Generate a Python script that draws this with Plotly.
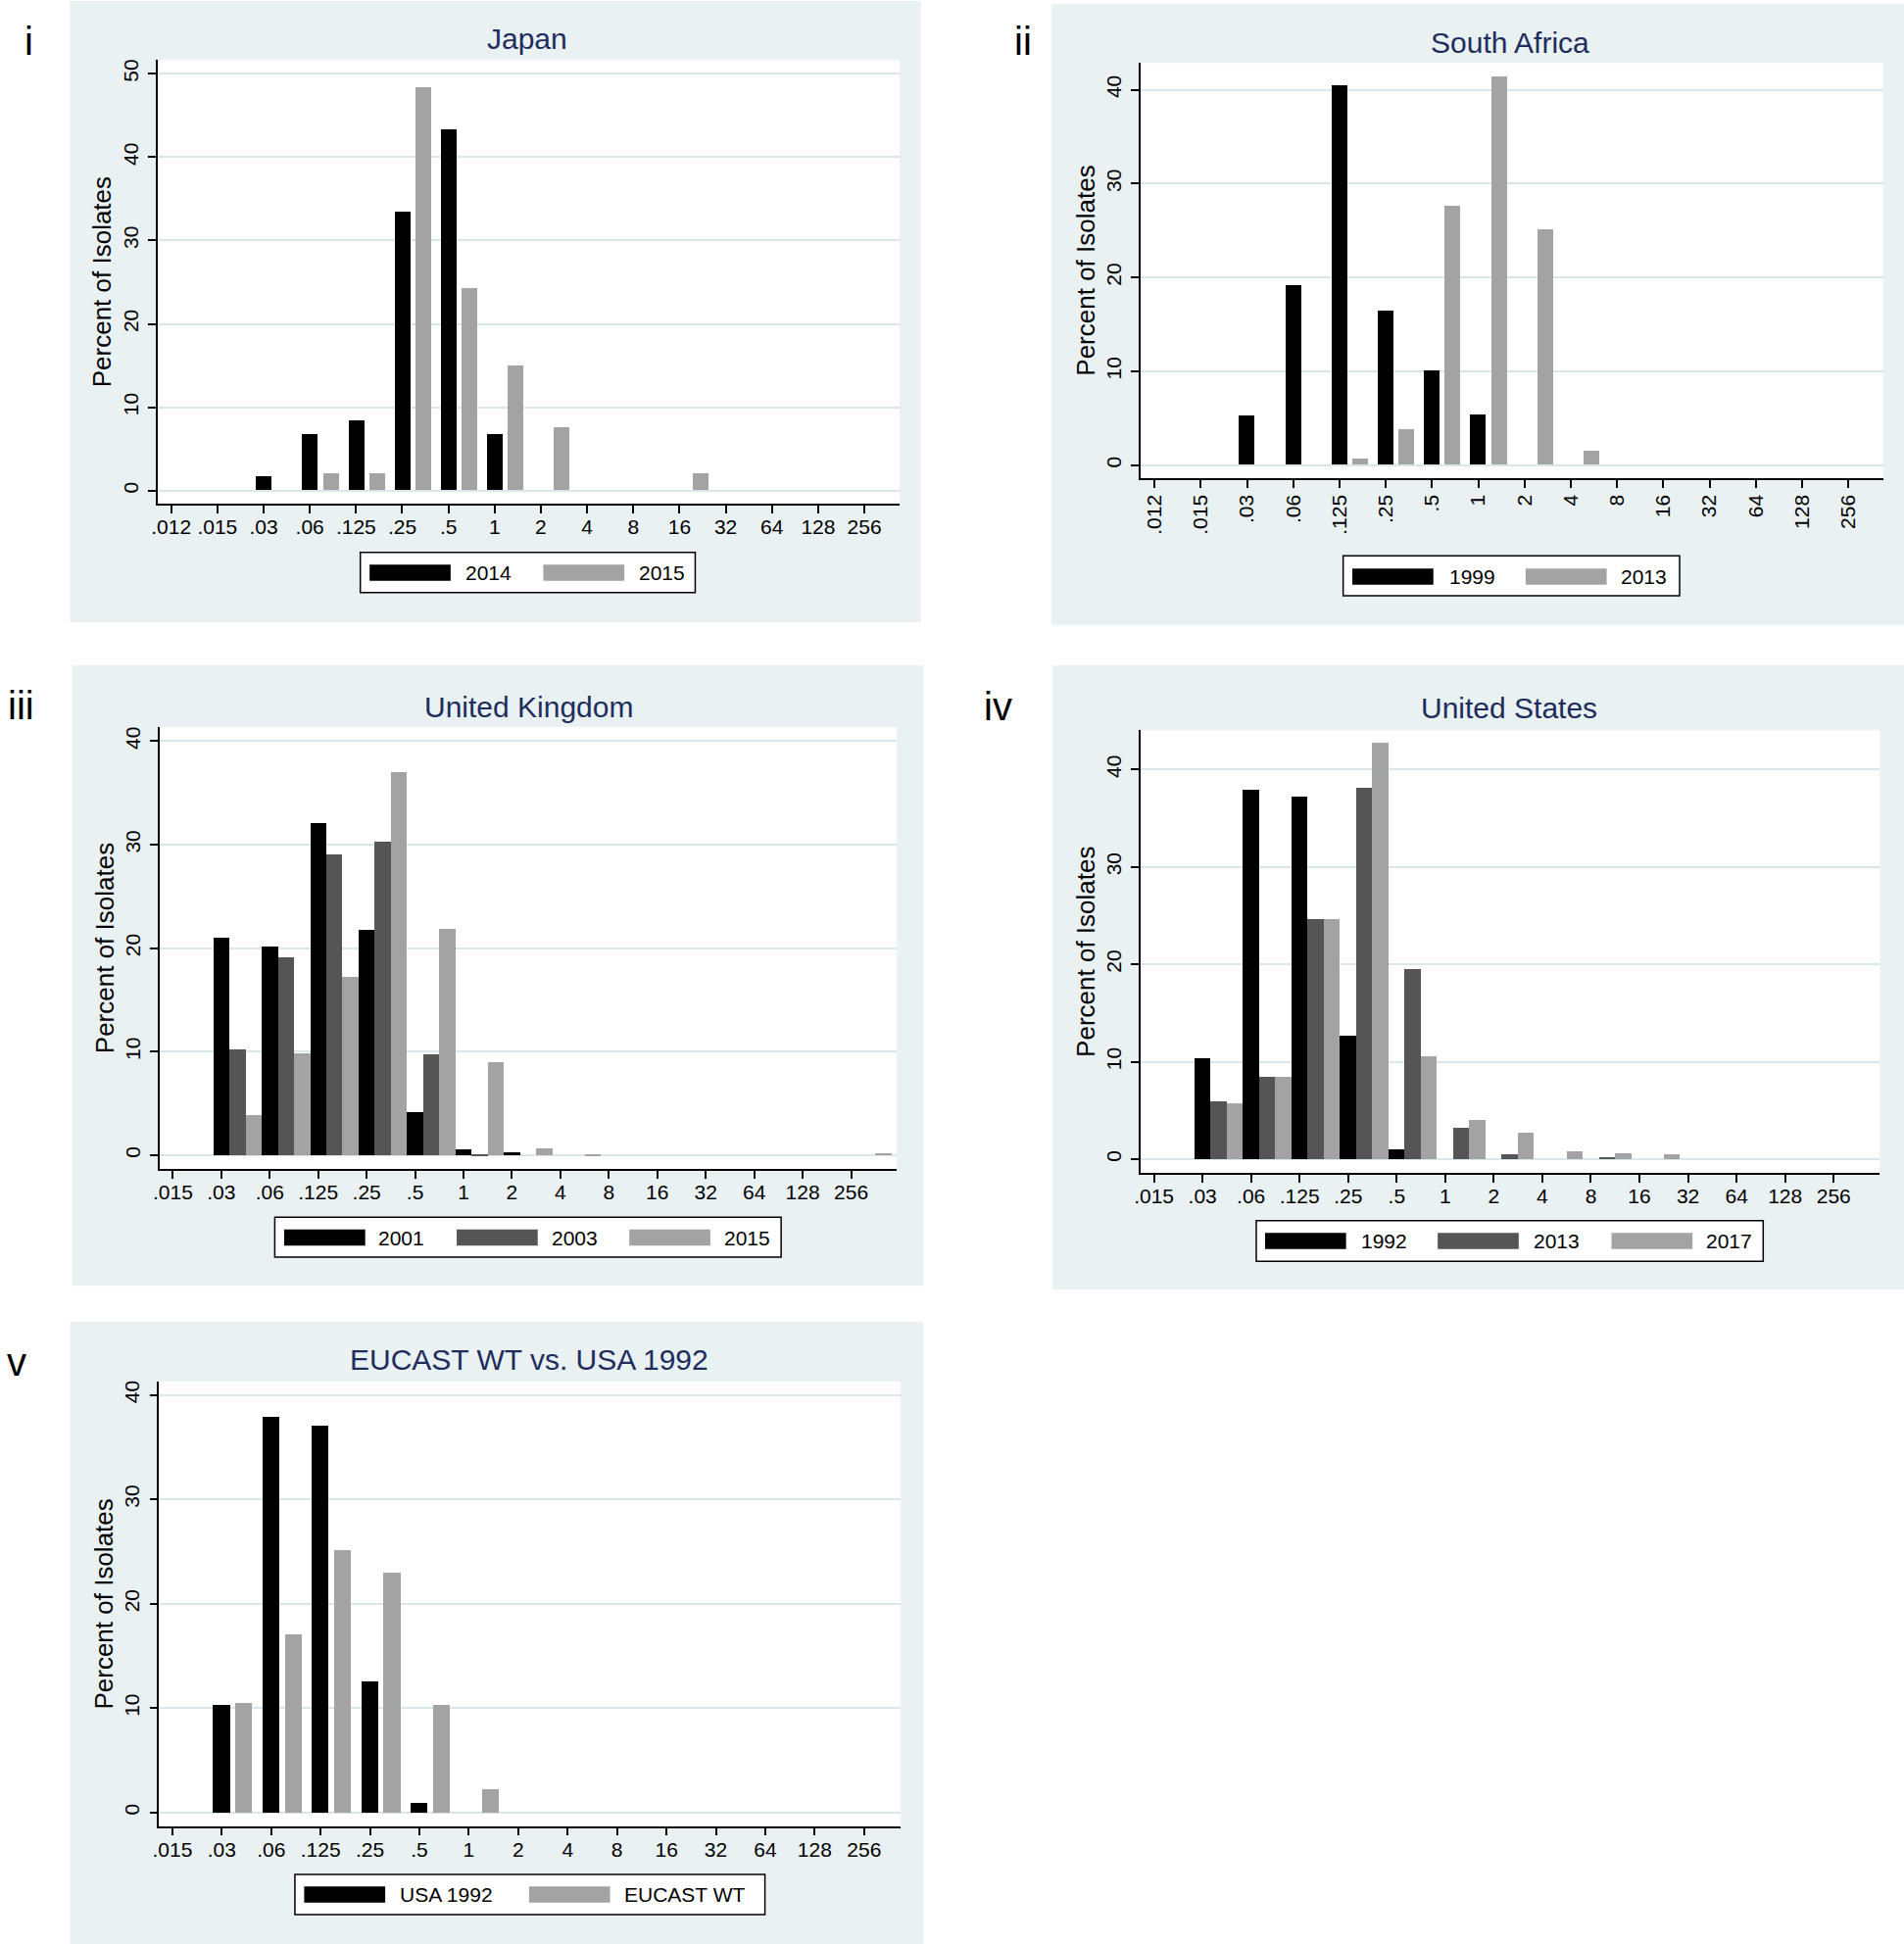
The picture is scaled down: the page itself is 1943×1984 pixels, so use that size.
import plotly.graph_objects as go

# MIC dilution categories (mg/L)
mic_16 = [".012", ".015", ".03", ".06", ".125", ".25", ".5", "1", "2", "4",
          "8", "16", "32", "64", "128", "256"]
mic_15 = [".015", ".03", ".06", ".125", ".25", ".5", "1", "2", "4",
          "8", "16", "32", "64", "128", "256"]

# percent of isolates per MIC
japan_2014 = [0, 0, 1.7, 6.8, 8.4, 33.4, 43.3, 6.8, 0, 0, 0, 0, 0, 0, 0, 0]
japan_2015 = [0, 0, 0, 2.0, 2.0, 48.3, 24.2, 15.0, 7.6, 0, 0, 2.0, 0, 0, 0, 0]

sa_1999 = [0, 0, 5.3, 19.2, 40.5, 16.4, 10.1, 5.4, 0, 0, 0, 0, 0, 0, 0, 0]
sa_2013 = [0, 0, 0, 0, 0.7, 3.8, 27.6, 41.4, 25.1, 1.5, 0, 0, 0, 0, 0, 0]

uk_2001 = [0, 21.0, 20.2, 32.1, 21.8, 4.2, 0.55, 0.27, 0, 0, 0, 0, 0, 0, 0]
uk_2003 = [0, 10.2, 19.1, 29.1, 30.3, 9.8, 0.15, 0, 0, 0, 0, 0, 0, 0, 0]
uk_2015 = [0, 3.9, 9.9, 17.2, 37.0, 21.9, 9.0, 0.63, 0.12, 0, 0, 0, 0, 0, 0.2]

us_1992 = [0, 10.3, 37.9, 37.2, 12.7, 1.0, 0, 0, 0, 0, 0, 0, 0, 0, 0]
us_2013 = [0, 5.9, 8.4, 24.6, 38.1, 19.5, 3.2, 0.44, 0, 0.17, 0, 0, 0, 0, 0]
us_2017 = [0, 5.7, 8.4, 24.6, 42.7, 10.5, 4.0, 2.75, 0.77, 0.57, 0.44, 0, 0, 0, 0]

usa_1992 = [0, 10.3, 37.9, 37.1, 12.6, 0.96, 0, 0, 0, 0, 0, 0, 0, 0, 0]
eucast_wt = [0, 10.45, 17.1, 25.1, 23.0, 10.3, 2.2, 0, 0, 0, 0, 0, 0, 0, 0]

W, H = 1943, 1984
FONT = "Liberation Sans, Arial, Helvetica, sans-serif"
BLACK, DARK, LIGHT = "#000000", "#555555", "#A3A3A3"
BG = "#E9F1F3"
GRID = "#D9E6EA"
NAVY = "#1E2D5C"


def fx(px):
    return px / W


def fy(py):
    return 1 - py / H


panels = [
    dict(title="Japan", tag="i", tag_xy=(23, 41), cats=mic_16,
         series=[("2014", japan_2014, BLACK), ("2015", japan_2015, LIGHT)],
         bg=(64.5, 0, 936, 634), plot=(154.3, 60.4, 914.2, 513.1),
         xr=(-0.296, 15.76), yr=(-1.54, 51.63), xangle=0, title_xy=(533, 38.5),
         leg_box=(362, 563, 705, 604), leg_sw=[371.5, 549.4], leg_tx=[468, 645.3],
         leg_y=(575.6, 592)),
    dict(title="South Africa", tag="ii", tag_xy=(1041, 41.5), cats=mic_16,
         series=[("1999", sa_1999, BLACK), ("2013", sa_2013, LIGHT)],
         bg=(1070, 3, 1943, 637), plot=(1161.4, 63.3, 1921.5, 487.0),
         xr=(-0.295, 15.75), yr=(-1.36, 42.85), xangle=-90, title_xy=(1540, 43),
         leg_box=(1368.6, 566.6, 1713.2, 607.4), leg_sw=[1378, 1555.5], leg_tx=[1475, 1651],
         leg_y=(579.6, 596)),
    dict(title="United Kingdom", tag="iii", tag_xy=(15, 719.5), cats=mic_15,
         series=[("2001", uk_2001, BLACK), ("2003", uk_2003, DARK), ("2015", uk_2015, LIGHT)],
         bg=(66.7, 678.3, 939, 1312), plot=(156.5, 741.3, 911.3, 1192.7),
         xr=(-0.272, 14.94), yr=(-1.33, 41.37), xangle=0, title_xy=(534, 720.5),
         leg_box=(274.4, 1242, 793, 1282.6), leg_sw=[284, 460.7, 637.5],
         leg_tx=[378.8, 556.1, 732.3], leg_y=(1254.4, 1271)),
    dict(title="United States", tag="iv", tag_xy=(1015, 720), cats=mic_15,
         series=[("1992", us_1992, BLACK), ("2013", us_2013, DARK), ("2017", us_2017, LIGHT)],
         bg=(1071, 678.3, 1943, 1316), plot=(1161.4, 744.6, 1918.2, 1196.8),
         xr=(-0.27, 14.95), yr=(-1.42, 44.04), xangle=0, title_xy=(1539, 721.5),
         leg_box=(1279.6, 1245.3, 1798.8, 1286.8), leg_sw=[1288.6, 1465.4, 1643.4],
         leg_tx=[1384.9, 1561.2, 1738.5], leg_y=(1257.8, 1274.3)),
    dict(title="EUCAST WT vs. USA 1992", tag="v", tag_xy=(10, 1390), cats=mic_15,
         series=[("USA 1992", usa_1992, BLACK), ("EUCAST WT", eucast_wt, LIGHT)],
         bg=(64.7, 1349, 938.6, 1984), plot=(155.9, 1409.8, 915.4, 1863.6),
         xr=(-0.27, 14.74), yr=(-1.30, 41.28), xangle=0, title_xy=(535, 1387.5),
         leg_box=(295, 1913, 776.4, 1954), leg_sw=[304.5, 534.8], leg_tx=[400.5, 630.7],
         leg_y=(1925.3, 1941.7)),
]

fig = go.Figure()
shapes = []
annotations = []
layout = {}

for k, p in enumerate(panels, start=1):
    sfx = "" if k == 1 else str(k)
    xref, yref = "x" + sfx, "y" + sfx
    n = len(p["series"])
    if n == 2:
        offsets, width = [0.0, 0.45], 0.34
    else:
        offsets, width = [0.0, 1 / 3, 2 / 3], 1 / 3

    for (name, vals, col), off in zip(p["series"], offsets):
        fig.add_trace(go.Bar(
            x=p["cats"], y=vals, name=name, xaxis=xref, yaxis=yref,
            width=width, offset=off - width / 2,
            marker=dict(color=col, line=dict(width=0)), showlegend=False,
        ))

    x0, y0, x1, y1 = p["plot"]
    layout["xaxis" + sfx] = dict(
        domain=[fx(x0), fx(x1)], anchor=yref, type="category",
        categoryorder="array", categoryarray=p["cats"], range=list(p["xr"]),
        tickmode="linear", tick0=0, dtick=1,
        showgrid=False, zeroline=False, showline=True, linecolor="black", linewidth=1.5,
        ticks="outside", ticklen=8, tickwidth=1.5, tickcolor="black",
        tickangle=p["xangle"], ticklabelstandoff=-1 if p["xangle"] else -4,
        tickfont=dict(family=FONT, size=21, color="black"), fixedrange=True,
    )
    layout["yaxis" + sfx] = dict(
        domain=[fy(y1), fy(y0)], anchor=xref, range=list(p["yr"]),
        tick0=0, dtick=10, showgrid=True, gridcolor=GRID, gridwidth=2,
        zeroline=False, showline=True, linecolor="black", linewidth=1.5,
        ticks="outside", ticklen=8, tickwidth=1.5, tickcolor="black",
        tickangle=-90, ticklabelstandoff=2,
        tickfont=dict(family=FONT, size=21, color="black"),
        title=dict(text="Percent of Isolates", standoff=0,
                   font=dict(family=FONT, size=26, color="black")),
        fixedrange=True,
    )

    # panel background and white plot region
    bx0, by0, bx1, by1 = p["bg"]
    shapes.append(dict(type="rect", xref="paper", yref="paper", layer="below",
                       x0=fx(bx0), x1=fx(bx1), y0=fy(by1), y1=fy(by0),
                       fillcolor=BG, line=dict(width=0)))
    shapes.append(dict(type="rect", xref=xref + " domain", yref=yref + " domain", layer="below",
                       x0=0, x1=1, y0=0, y1=1, fillcolor="white", line=dict(width=0)))

    # panel title and tag
    annotations.append(dict(text=p["title"], x=fx(p["title_xy"][0]), y=fy(p["title_xy"][1]),
                            xref="paper", yref="paper", showarrow=False,
                            xanchor="center", yanchor="middle",
                            font=dict(family=FONT, size=30, color=NAVY)))
    annotations.append(dict(text=p["tag"], x=fx(p["tag_xy"][0]), y=fy(p["tag_xy"][1]),
                            xref="paper", yref="paper", showarrow=False,
                            xanchor="center", yanchor="middle",
                            font=dict(family=FONT, size=40, color="black")))

    # legend
    lx0, ly0, lx1, ly1 = p["leg_box"]
    shapes.append(dict(type="rect", xref="paper", yref="paper",
                       x0=fx(lx0), x1=fx(lx1), y0=fy(ly1), y1=fy(ly0),
                       fillcolor="white", line=dict(color="black", width=1.5)))
    sy0, sy1 = p["leg_y"]
    for (name, vals, col), sx, tx in zip(p["series"], p["leg_sw"], p["leg_tx"]):
        shapes.append(dict(type="rect", xref="paper", yref="paper",
                           x0=fx(sx), x1=fx(sx + 83), y0=fy(sy1), y1=fy(sy0),
                           fillcolor=col, line=dict(width=0)))
        annotations.append(dict(text=name, x=fx(tx), y=fy((sy0 + sy1) / 2),
                                xref="paper", yref="paper", showarrow=False,
                                xanchor="left", yanchor="middle",
                                font=dict(family=FONT, size=21, color="black")))

fig.update_layout(
    width=W, height=H, margin=dict(l=0, r=0, t=0, b=0),
    paper_bgcolor="white", plot_bgcolor="white",
    barmode="overlay", bargap=0, showlegend=False,
    font=dict(family=FONT, color="black"),
    shapes=shapes, annotations=annotations, **layout,
)

# page body has a default 8px margin; drop it so the figure sits at the window origin
fig.write_html("out.html", config={"displayModeBar": False},
               post_script="document.body.style.margin='0';document.body.style.overflow='hidden';")
